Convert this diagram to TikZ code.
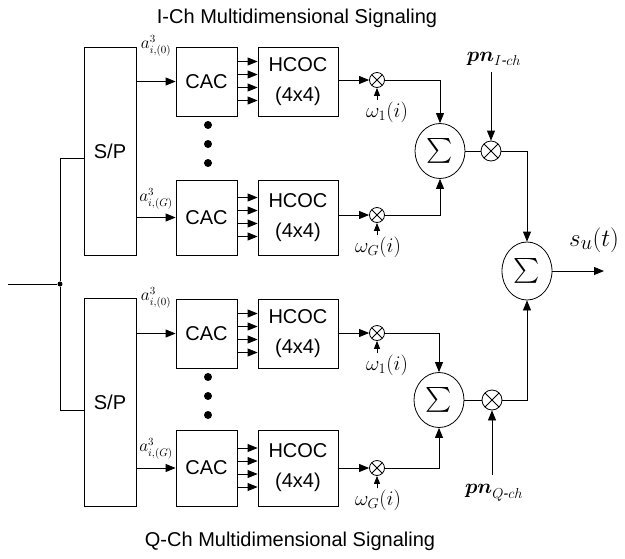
\documentclass[tikz,border=0pt]{standalone}
\usepackage{amsmath}
\usepackage{fontspec}
\setmainfont{Liberation Sans}
\usetikzlibrary{arrows.meta,shapes.geometric,calc}
\tikzset{
  blk/.style={draw,line width=0.8pt,inner sep=0pt,font=\fontsize{20}{30}\selectfont,align=center},
  spbox/.style={blk,minimum width=52pt,minimum height=208pt},
  cacbox/.style={blk,minimum width=61pt},
  hcocbox/.style={blk,minimum width=80pt},
  arr/.style={line width=0.8pt,-{Triangle[length=10pt,width=8pt]}},
  sarr/.style={line width=0.8pt,-{Triangle[length=8pt,width=6pt]}},
  ln/.style={line width=0.8pt},
  mult/.style={circle,draw,line width=0.8pt,inner sep=0pt,minimum size=#1,
    path picture={\draw[line width=0.8pt] (path picture bounding box.north west)--(path picture bounding box.south east)
      (path picture bounding box.north east)--(path picture bounding box.south west);}},
  sig/.style={ellipse,draw,line width=0.8pt,inner sep=0pt,minimum width=50pt,minimum height=#1,
    font=\fontsize{26}{26}\selectfont},
  lab/.style={inner sep=0pt,font=\fontsize{16}{16}\selectfont},
  wlab/.style={inner sep=0pt,font=\fontsize{21}{21}\selectfont},
  ttl/.style={inner sep=0pt,font=\fontsize{20}{24}\selectfont},
  bigdot/.style={circle,fill,inner sep=0pt,minimum size=8pt},
  jdot/.style={circle,fill,inner sep=0pt,minimum size=5pt}
}
\begin{document}
\begin{tikzpicture}[x=1pt,y=-1pt]
\useasboundingbox (0,0) rectangle (625,558);
% titles
\node[ttl] (T1) at (297,18) {I-Ch Multidimensional Signaling};
\node[ttl] (T2) at (290,541) {Q-Ch Multidimensional Signaling};
% S/P
\node[spbox] (SP1) at (110,151) {S/P};
\node[spbox] (SP2) at (110,402) {S/P};
% input
\coordinate (IN) at (8,284);
\node[jdot] (J) at (60,284) {};
\draw[ln] (IN) -- (J);
\draw[ln] (J) |- ([yshift=-7pt]SP1.west);
\draw[ln] (J) |- ([yshift=-8pt]SP2.west);
% CAC boxes
\node[cacbox,minimum height=69pt] (C1) at (206.5,81.5) {CAC};
\node[cacbox,minimum height=75pt] (C2) at (206.5,217.5) {CAC};
\node[cacbox,minimum height=69pt] (C3) at (206.5,333.5) {CAC};
\node[cacbox,minimum height=76pt] (C4) at (206.5,468) {CAC};
% HCOC boxes
\node[hcocbox,minimum height=69pt] (H1) at (298,81.5) {HCOC\\(4x4)};
\node[hcocbox,minimum height=75pt] (H2) at (298,217.5) {HCOC\\(4x4)};
\node[hcocbox,minimum height=69pt] (H3) at (298,333.5) {HCOC\\(4x4)};
\node[hcocbox,minimum height=76pt] (H4) at (298,468) {HCOC\\(4x4)};
% dots
\foreach \y [count=\k] in {125,144,163} \node[bigdot] (DA\k) at (208,\y) {};
\foreach \y [count=\k] in {377,396,415} \node[bigdot] (DB\k) at (208,\y) {};
% S/P -> CAC
\draw[arr] (SP1.east |- C1.west) -- (C1.west);
\draw[arr] (SP1.east |- C2.west) -- (C2.west);
\draw[arr] (SP2.east |- C3.west) -- (C3.west);
\draw[arr] (SP2.east |- C4.west) -- (C4.west);
% a labels
\node[lab] (A1) at (156,46) {$a^3_{i,(0)}$};
\node[lab] (A2) at (156,199) {$a^3_{i,(G)}$};
\node[lab] (A3) at (156,298) {$a^3_{i,(0)}$};
\node[lab] (A4) at (156,449) {$a^3_{i,(G)}$};
% CAC -> HCOC (4 lines each)
\foreach \c/\h in {C1/H1,C2/H2,C3/H3,C4/H4}{
  \foreach \d in {20,7,-6,-19}
    \draw[arr] ([yshift=\d pt]\c.east) -- ([yshift=\d pt]\h.west);
}
% multipliers
\node[mult=15pt] (M1) at (377,80) {};
\node[mult=15pt] (M2) at (377,215) {};
\node[mult=15pt] (M3) at (377,333) {};
\node[mult=15pt] (M4) at (377,468) {};
\draw[arr] (H1.east |- M1) -- (M1);
\draw[arr] (H2.east |- M2) -- (M2);
\draw[arr] (H3.east |- M3) -- (M3);
\draw[arr] (H4.east |- M4) -- (M4);
% omega labels
\node[wlab] (W1) at (387,112) {$\omega_1(i)$};
\node[wlab] (W2) at (378,247) {$\omega_G(i)$};
\node[wlab] (W3) at (387,365) {$\omega_1(i)$};
\node[wlab] (W4) at (378,500) {$\omega_G(i)$};
\draw[sarr] ([yshift=1pt]W1.north -| M1) -- (M1);
\draw[sarr] ([yshift=1pt]W2.north -| M2) -- (M2);
\draw[sarr] ([yshift=1pt]W3.north -| M3) -- (M3);
\draw[sarr] ([yshift=1pt]W4.north -| M4) -- (M4);
% sums
\node[sig=55pt] (S1) at (440,151) {$\sum$};
\node[sig=55pt] (S2) at (439,400) {$\sum$};
\draw[arr] (M1) -| (S1);
\draw[arr] (M2) -| (S1);
\draw[arr] (M3) -| (S2);
\draw[arr] (M4) -| (S2);
% pn multipliers
\node[mult=20pt] (P1) at (491,151) {};
\node[mult=20pt] (P2) at (492,400) {};
\draw[ln] (S1) -- (P1);
\draw[ln] (S2) -- (P2);
\node[wlab] (PN1) at (494,59) {$\boldsymbol{pn}_{I\textit{-}ch}$};
\node[wlab] (PN2) at (494,493) {$\boldsymbol{pn}_{Q\textit{-}ch}$};
\draw[arr] ([yshift=-6pt]PN1.south -| P1) -- (P1);
\draw[arr] ([yshift=9pt]PN2.north -| P2) -- (P2);
% final sum
\node[sig=58pt] (SF) at (527,271) {$\sum$};
\draw[arr] (P1) -| (SF);
\draw[arr] (P2) -| (SF);
\coordinate (OUT) at (604,271);
\draw[arr] (SF) -- (OUT);
\node[inner sep=0pt,font=\fontsize{30}{30}\selectfont] (SU) at (594,240) {$s_u(t)$};
\end{tikzpicture}
\end{document}
